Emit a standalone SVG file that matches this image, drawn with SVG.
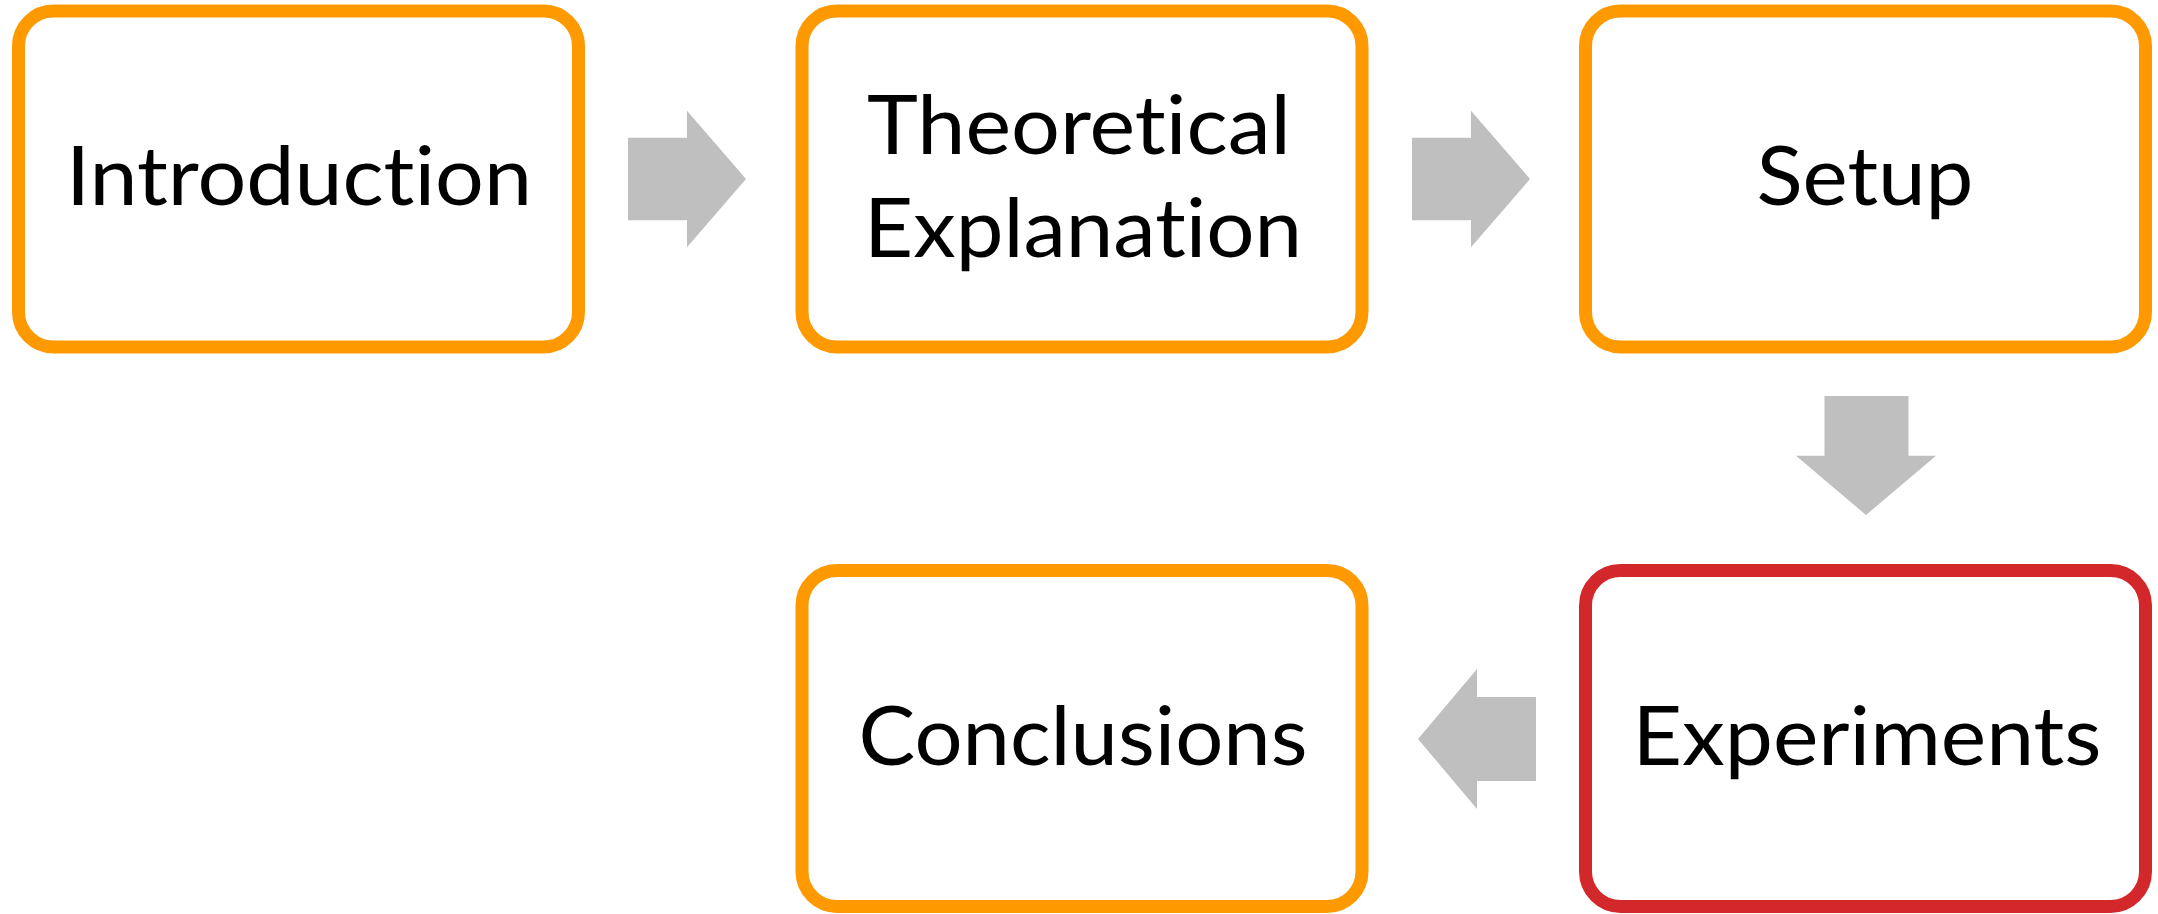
<svg xmlns="http://www.w3.org/2000/svg" width="2158" height="914" viewBox="0 0 2158 914">
<style>
.box{fill:#FFFFFF;stroke-width:13}
.orange{stroke:#FF9900}
.red{stroke:#D3282B}
.lbl{font-family:Lato,"Liberation Sans",sans-serif;font-size:81px;fill:#000000;text-anchor:middle;font-variant-ligatures:none;font-feature-settings:"liga" 0,"clig" 0,"dlig" 0}
.arrow{fill:#BFBFBF;stroke:none}
</style>
<rect width="2158" height="914" fill="#FFFFFF"/>
<g id="connectors">
<polygon class="arrow" points="628,137.7 687,137.7 687,110.7 746,179 687,247.3 687,220.3 628,220.3"/>
<polygon class="arrow" points="1412,137.7 1471,137.7 1471,110.7 1530,179 1471,247.3 1471,220.3 1412,220.3"/>
<polygon class="arrow" points="1824.5,396 1908.5,396 1908.5,455.7 1936,455.7 1866,515 1796,455.7 1824.5,455.7"/>
<polygon class="arrow" points="1536,697 1477,697 1477,669 1418,739 1477,809 1477,781 1536,781"/>
</g>
<g id="introduction">
<rect class="box orange" x="18.5" y="11" width="560" height="336" rx="35"/>
<text class="lbl" x="299" y="205" textLength="466" lengthAdjust="spacingAndGlyphs">Introduction</text>
</g>
<g id="theoretical-explanation">
<rect class="box orange" x="802" y="11" width="560" height="336" rx="35"/>
<text class="lbl" x="1079" y="154" textLength="424" lengthAdjust="spacingAndGlyphs">Theoretical</text>
<text class="lbl" x="1083" y="257" textLength="438" lengthAdjust="spacingAndGlyphs">Explanation</text>
</g>
<g id="setup">
<rect class="box orange" x="1585.5" y="11" width="560" height="336" rx="35"/>
<text class="lbl" x="1865" y="205" textLength="217" lengthAdjust="spacingAndGlyphs">Setup</text>
</g>
<g id="experiments">
<rect class="box red" x="1585.5" y="570.5" width="560" height="336" rx="35"/>
<text class="lbl" x="1867" y="765" textLength="469" lengthAdjust="spacingAndGlyphs">Experiments</text>
</g>
<g id="conclusions">
<rect class="box orange" x="802" y="570.5" width="560" height="336" rx="35"/>
<text class="lbl" x="1083" y="765" textLength="449" lengthAdjust="spacingAndGlyphs">Conclusions</text>
</g>
</svg>
